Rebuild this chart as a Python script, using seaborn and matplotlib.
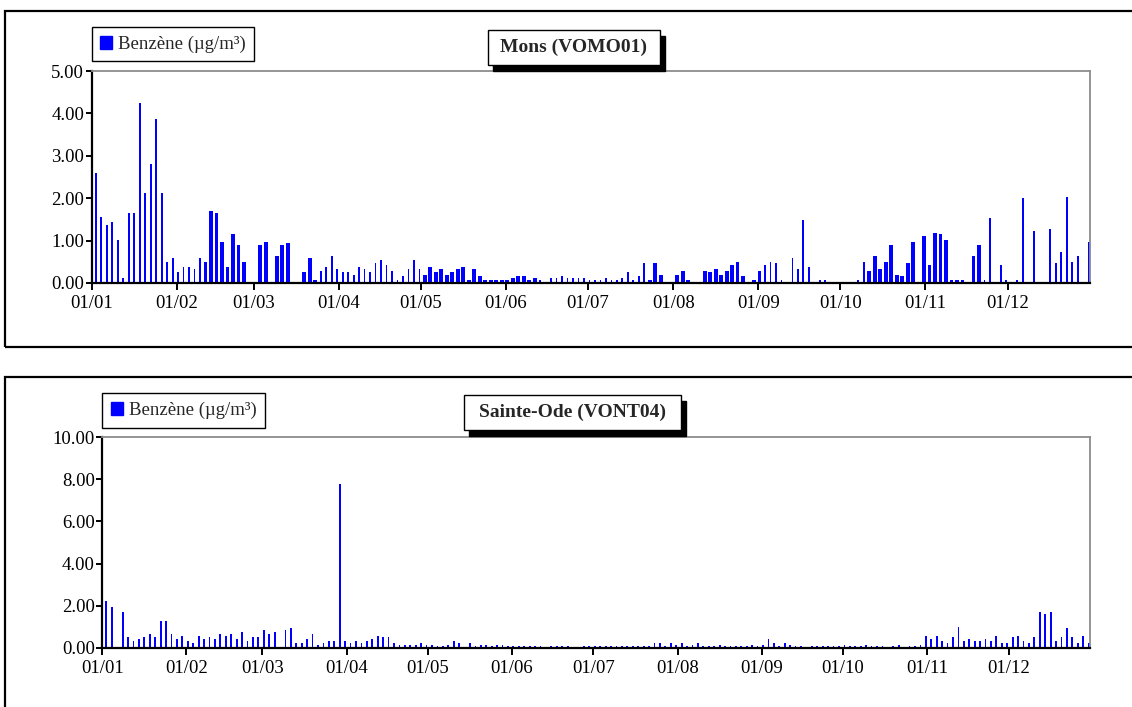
import numpy as np
import pandas as pd
import seaborn as sns
import matplotlib.pyplot as plt
from matplotlib.patches import Rectangle, Patch

# day of year (0 = 1 January) of each sample and benzene concentration (µg/m³)
mons_days = [1, 3, 5, 7, 9, 11, 13, 15, 17, 19, 21, 23, 25, 27, 29, 31, 33, 35, 37, 39,
             41, 43, 45, 47, 49, 51, 53, 55, 61, 63, 67, 69, 71, 77, 79, 81,
             83, 85, 87, 89, 91, 93, 95, 97, 99, 101, 103, 105, 107, 109, 111, 113, 115, 117, 119,
             121, 123, 125, 127, 129, 131, 133, 135, 137, 139, 141, 143, 145, 147, 149, 151, 153,
             155, 157, 159, 161,
             163, 167, 169, 171, 173, 175, 177, 179, 181, 183, 185, 187, 189, 191, 193, 195, 197,
             199, 201,
             203, 205, 207, 213, 215, 217, 223, 225, 227, 229, 231, 233, 235, 237, 241, 243,
             245, 247, 249, 251, 255, 257, 259, 261, 265, 267, 279, 281,
             283, 285, 287, 289, 291, 293, 295, 297, 299, 303, 305, 307, 309, 311, 313, 315, 317,
             321, 323,
             325, 327, 331, 333, 337, 339, 343, 349, 351, 353, 355, 357, 359, 363]
mons_vals = [2.59, 1.55, 1.36, 1.43, 1.01, 0.11, 1.65, 1.65, 4.24, 2.12, 2.80, 3.87, 2.12, 0.49,
             0.58, 0.25, 0.37, 0.37, 0.32, 0.58,
             0.49, 1.69, 1.65, 0.96, 0.37, 1.15, 0.89, 0.49, 0.89, 0.96, 0.63, 0.89, 0.94, 0.25,
             0.58, 0.06,
             0.28, 0.37, 0.63, 0.32, 0.25, 0.25, 0.20, 0.37, 0.32, 0.25, 0.46, 0.54, 0.42, 0.28,
             0.06, 0.16, 0.32, 0.54, 0.32,
             0.20, 0.37, 0.25, 0.32, 0.20, 0.25, 0.32, 0.37, 0.06, 0.32, 0.16, 0.06, 0.06, 0.06,
             0.06, 0.06, 0.11, 0.16, 0.16, 0.06, 0.11,
             0.06, 0.11, 0.11, 0.16, 0.11, 0.11, 0.11, 0.11, 0.06, 0.06, 0.06, 0.11, 0.06, 0.06,
             0.11, 0.25, 0.06, 0.16, 0.46,
             0.06, 0.46, 0.20, 0.20, 0.28, 0.06, 0.28, 0.25, 0.32, 0.20, 0.28, 0.42, 0.49, 0.16,
             0.06, 0.28,
             0.42, 0.49, 0.46, 0.06, 0.58, 0.32, 1.48, 0.37, 0.06, 0.06, 0.06, 0.49,
             0.28, 0.63, 0.32, 0.49, 0.89, 0.20, 0.16, 0.46, 0.96, 1.10, 0.42, 1.17, 1.15, 1.01,
             0.06, 0.06, 0.06, 0.63, 0.89,
             0.06, 1.53, 0.42, 0.06, 0.06, 2.00, 1.22, 1.27, 0.46, 0.72, 2.02, 0.49, 0.63, 0.96]
# campaigns with the second sampler (drawn with wider bars)
mons_wide_periods = [(41, 81), (121, 161), (203, 243), (283, 323)]

ode_days = [1, 3, 7, 9, 11, 13, 15, 17, 19, 21, 23, 25, 27, 29,
            31, 33, 35, 37, 39, 41, 43, 45, 47, 49, 51, 53, 55, 57,
            59, 61, 63, 67, 69, 71, 73, 75, 77, 79, 81, 83, 85, 87, 89,
            91, 93, 95, 97, 99, 101, 103, 105, 107, 109, 111, 113, 115, 117, 119,
            121, 123, 125, 127, 129, 131, 135, 137, 139, 141, 143, 145, 147, 149,
            151, 153, 155, 157, 159, 161, 165, 167, 169, 171, 177, 179,
            181, 183, 185, 187, 189, 191, 193, 195, 197, 199, 201, 203, 205, 207, 209, 211,
            213, 215, 217, 219, 221, 223, 225, 227, 229, 231, 233, 235, 237, 239, 241,
            243, 245, 247, 249, 251, 253, 255, 257, 261, 263, 265, 267, 269, 271,
            273, 275, 277, 279, 281, 283, 285, 287, 291, 293, 297, 299, 301,
            303, 305, 307, 309, 311, 313, 315, 317, 319, 321, 323, 325, 327, 329, 331, 333,
            335, 337, 339, 341, 343, 345, 347, 349, 351, 353, 355, 357, 359, 361, 363]
ode_vals = [2.22, 1.94, 1.70, 0.52, 0.33, 0.43, 0.52, 0.66, 0.52, 1.28, 1.28, 0.66, 0.43, 0.57,
            0.33, 0.24, 0.57, 0.43, 0.52, 0.43, 0.66, 0.57, 0.66, 0.43, 0.76, 0.33, 0.52, 0.52,
            0.85, 0.66, 0.76, 0.85, 0.95, 0.24, 0.24, 0.43, 0.66, 0.14, 0.24, 0.33, 0.33, 7.76, 0.33,
            0.24, 0.33, 0.24, 0.33, 0.43, 0.57, 0.52, 0.52, 0.24, 0.14, 0.14, 0.14, 0.14, 0.24, 0.14,
            0.14, 0.09, 0.09, 0.14, 0.33, 0.24, 0.24, 0.09, 0.14, 0.14, 0.09, 0.14, 0.14, 0.09,
            0.09, 0.09, 0.09, 0.09, 0.09, 0.09, 0.09, 0.09, 0.09, 0.09, 0.09, 0.09,
            0.09, 0.09, 0.09, 0.09, 0.09, 0.09, 0.09, 0.09, 0.09, 0.09, 0.09, 0.24, 0.24, 0.09, 0.24, 0.14,
            0.24, 0.09, 0.14, 0.24, 0.09, 0.09, 0.09, 0.14, 0.09, 0.09, 0.09, 0.09, 0.09, 0.14, 0.09,
            0.14, 0.43, 0.24, 0.09, 0.24, 0.14, 0.09, 0.09, 0.09, 0.09, 0.09, 0.09, 0.09, 0.09,
            0.14, 0.09, 0.09, 0.09, 0.14, 0.09, 0.09, 0.09, 0.09, 0.14, 0.09, 0.09, 0.14,
            0.57, 0.43, 0.57, 0.33, 0.24, 0.52, 0.99, 0.33, 0.43, 0.33, 0.33, 0.43, 0.33, 0.57, 0.24, 0.24,
            0.52, 0.57, 0.33, 0.24, 0.52, 1.70, 1.61, 1.70, 0.33, 0.52, 0.95, 0.52, 0.24, 0.57, 0.24]
ode_wide_periods = []

month_labels = ["01/01", "01/02", "01/03", "01/04", "01/05", "01/06",
                "01/07", "01/08", "01/09", "01/10", "01/11", "01/12"]
series_label = "Benzène (µg/m³)"

sns.set_theme(style="white")
plt.rcParams["font.family"] = ["Liberation Serif", "DejaVu Serif"]

W, H = 1132, 707
fig = plt.figure(figsize=(W / 100, H / 100), dpi=100)
BLUE = "#0000FF"
month_starts = pd.date_range("2009-01-01", periods=12, freq="MS").dayofyear - 1


def rect(x0, y0, x1, y1):
    # pixel box (origin top-left) -> figure fraction [l, b, w, h]
    return [x0 / W, 1 - y1 / H, (x1 - x0) / W, (y1 - y0) / H]


def panel(ax_box, frame_box, days, vals, wide_periods, ymax, title, title_box):
    fig.patches.append(Rectangle(rect(*frame_box)[:2], *rect(*frame_box)[2:],
                                 transform=fig.transFigure, fill=False,
                                 ec="black", lw=1.6, zorder=0))
    ax = fig.add_axes(rect(*ax_box))
    df = pd.DataFrame({"day": days, "value": vals})
    df["centre"] = df["day"] + 0.5
    df["wide"] = False
    for a, b in wide_periods:
        df.loc[df["day"].between(a, b), "wide"] = True
    for wide, part in df.groupby("wide"):
        sns.barplot(data=part, x="centre", y="value", native_scale=True,
                    width=0.7 if wide else 0.33, color=BLUE, saturation=1,
                    linewidth=0, errorbar=None, legend=False, ax=ax)
    ax.set_xlim(0, 364)
    ax.set_ylim(0, ymax)
    ax.set_yticks(np.linspace(0, ymax, 6))
    ax.set_yticklabels([f"{v:.2f}" for v in np.linspace(0, ymax, 6)])
    ax.set_xticks(month_starts)
    ax.set_xticklabels(month_labels)
    ax.set_xlabel("")
    ax.set_ylabel("")
    for s in ("left", "bottom"):
        ax.spines[s].set_color("black")
        ax.spines[s].set_linewidth(1.6)
    for s in ("top", "right"):
        ax.spines[s].set_color("#8c8c8c")
        ax.spines[s].set_linewidth(1.3)
    ax.tick_params(axis="both", direction="out", length=5, width=1.4,
                   color="black", labelsize=13.5, labelcolor="black")
    ax.tick_params(axis="y", pad=1.5, length=4)
    ax.tick_params(axis="x", pad=3.5)
    ax.tick_params(left=True, bottom=True)
    leg = ax.legend(handles=[Patch(color=BLUE)], labels=[series_label],
                    loc="lower left", bbox_to_anchor=(0, 1.045),
                    borderaxespad=0, frameon=True, fancybox=False,
                    edgecolor="black", framealpha=1, fontsize=13.5,
                    handlelength=0.65, handleheight=0.75, handletextpad=0.3,
                    borderpad=0.45)
    leg.get_frame().set_linewidth(1.0)
    # title box with drop shadow
    tx0, ty0, tx1, ty1 = title_box
    fig.patches.append(Rectangle(rect(tx0 + 5, ty0 + 6, tx1 + 5, ty1 + 6)[:2],
                                 *rect(tx0, ty0, tx1, ty1)[2:],
                                 transform=fig.transFigure, fc="black", ec="black", zorder=5))
    fig.patches.append(Rectangle(rect(*title_box)[:2], *rect(*title_box)[2:],
                                 transform=fig.transFigure, fc="white", ec="black",
                                 lw=1.0, zorder=6))
    fig.text((tx0 + tx1) / 2 / W, 1 - (ty0 + ty1) / 2 / H, title,
             ha="center", va="center", fontsize=14, fontweight="bold", zorder=7)
    return ax


panel((91.7, 71, 1090, 283), (5, 11, 1150, 347), mons_days, mons_vals,
      mons_wide_periods, 5, "Mons (VOMO01)", (488, 30, 660, 65))
panel((102.3, 437, 1090, 648), (5, 377, 1150, 730), ode_days, ode_vals,
      ode_wide_periods, 10, "Sainte-Ode (VONT04)", (464, 395, 681, 430))

fig.savefig("out.png", dpi=100)
